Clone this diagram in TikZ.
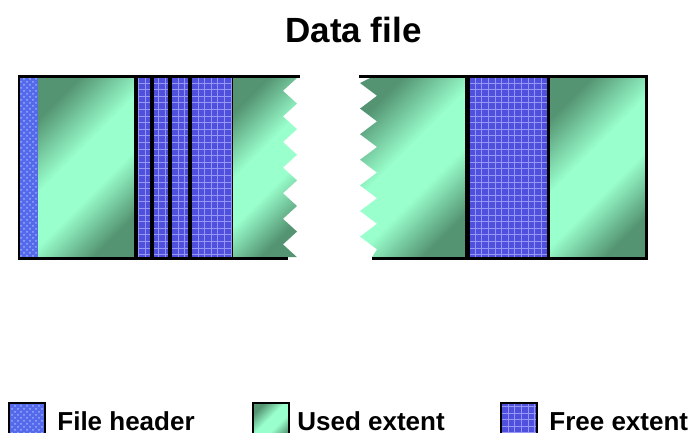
\documentclass[tikz,border=0pt]{standalone}
\usepackage{fontspec}
\setmainfont{Liberation Sans}
\usepackage{xcolor}
\usepackage{tikz}
\usetikzlibrary{patterns}
\definecolor{freeBlue}{RGB}{80, 80, 222}
\definecolor{gridBlue}{RGB}{150, 150, 245}
\definecolor{hdrBlue}{RGB}{85, 105, 235}
\definecolor{hdrDot}{RGB}{150, 175, 255}
\definecolor{usedDark}{RGB}{84, 148, 114}
\definecolor{usedLight}{RGB}{153, 255, 204}
\pgfdeclarehorizontalshading{usedshade}{100bp}{%
  color(0bp)=(usedDark); color(25bp)=(usedDark); color(44bp)=(usedLight);
  color(58bp)=(usedLight); color(75bp)=(usedDark); color(100bp)=(usedDark)}
\pgfdeclarepatternformonly{extgrid}{\pgfqpoint{-1pt}{-1pt}}{\pgfqpoint{4.3pt}{4.3pt}}%
  {\pgfqpoint{3.3pt}{3.3pt}}{%
  \pgfsetlinewidth{0.5pt}
  \pgfpathmoveto{\pgfqpoint{0pt}{0pt}}\pgfpathlineto{\pgfqpoint{3.4pt}{0pt}}
  \pgfpathmoveto{\pgfqpoint{0pt}{0pt}}\pgfpathlineto{\pgfqpoint{0pt}{3.4pt}}
  \pgfusepath{stroke}}
\tikzset{
  hdrext/.style={
    preaction={fill=hdrBlue},
    pattern=crosshatch dots, pattern color=hdrDot
  },
  usedext/.style={
    shading=usedshade, shading angle=-45
  },
  freeext/.style={
    preaction={fill=freeBlue},
    pattern=extgrid, pattern color=gridBlue
  },
  sepline/.style={
    line width=2pt, draw=black
  },
  frameline/.style={
    line width=1.5pt, draw=black
  },
  keybox/.style={
    rectangle, draw=black, line width=1pt,
    minimum width=18pt, minimum height=20pt,
    inner sep=0pt, anchor=north west
  },
  keytext/.style={
    inner sep=0pt, anchor=base west,
    font=\bfseries\fontsize{13}{16}\selectfont
  },
  titletext/.style={
    inner sep=0pt, anchor=base,
    font=\bfseries\fontsize{17.5}{21}\selectfont
  }
}

\begin{document}
\begin{tikzpicture}[x=0.5pt, y=-0.5pt]
  \useasboundingbox (0,0) rectangle (691,433);

  \node[titletext] (title) at (353.5,43) {Data file};

  % left part of the file
  \path[hdrext]  (18,78) rectangle (38,257);
  \path[usedext] (38,78) rectangle (134,257);
  \path[freeext] (134,78) rectangle (232,257);
  \path[usedext] (232,78) -- (297,78)
    foreach \k in {0,...,6} { -- (283,{90.8+25.6*\k}) -- (297,{103.6+25.6*\k}) }
    -- (232,257) -- cycle;
  \draw[sepline] (135.5,78) -- (135.5,257);
  \draw[sepline] (151.5,78) -- (151.5,257);
  \draw[sepline] (170,78) -- (170,257);
  \draw[sepline] (190,78) -- (190,257);
  \draw[black, line width=0.5pt] (232,78) -- (232,257);
  \draw[black, line width=1pt] (18.5,76.5) -- (18.5,258);
  \draw[frameline] (18,76.5) -- (300,76.5);
  \draw[frameline] (18,258) -- (288,258);

  % right part of the file
  \path[usedext] (465,78) -- (370,78)
    foreach \k in {0,...,6} { -- (360,{83+25.6*\k}) -- (377,{95.8+25.6*\k}) }
    -- (372,257) -- (465,257) -- cycle;
  \path[freeext] (465,78) rectangle (550,257);
  \path[usedext] (550,78) rectangle (646,257);
  \draw[sepline, line width=2.5pt] (467.5,78) -- (467.5,257);
  \draw[sepline, line width=1.5pt] (548.5,78) -- (548.5,257);
  \draw[frameline] (646.5,76.5) -- (646.5,258);
  \draw[frameline] (359,76.5) -- (648,76.5);
  \draw[frameline] (372,258) -- (648,258);

  % key
  \node[keybox, hdrext]  (keyHdr)  at (8,402) {};
  \node[keybox, usedext] (keyUsed) at (252,402) {};
  \node[keybox, freeext] (keyFree) at (500,402) {};
  \node[keytext] (lblHdr)  at (57,430)  {File header};
  \node[keytext] (lblUsed) at (297,430) {Used extent};
  \node[keytext] (lblFree) at (549,430) {Free extent};
\end{tikzpicture}
\end{document}
